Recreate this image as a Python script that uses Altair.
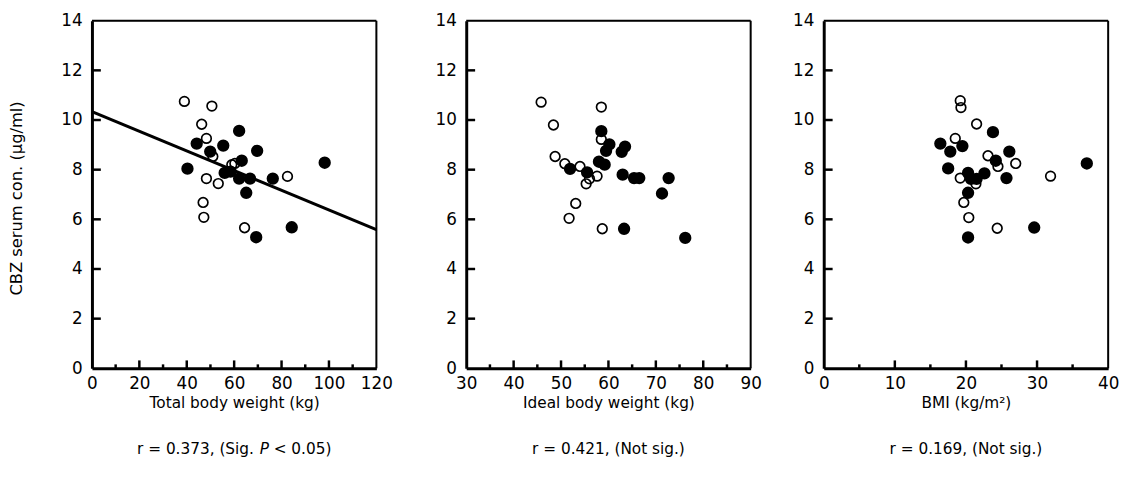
import altair as alt
import pandas as pd

# ---------------- data ----------------
# Panel 1: Total body weight (kg)
tbw_open_x = [39.0, 50.6, 46.3, 48.3, 51.0, 59.0, 60.3, 48.3, 53.3, 46.9, 47.2, 64.4, 82.5]
tbw_open_y = [10.75, 10.56, 9.83, 9.26, 8.53, 8.20, 8.25, 7.64, 7.44, 6.68, 6.08, 5.66, 7.73]
tbw_fill_x = [62.1, 44.2, 49.9, 55.4, 69.7, 40.3, 63.2, 56.0, 58.5, 62.1, 66.7, 65.1, 76.3, 98.2, 69.3, 84.3]
tbw_fill_y = [9.56, 9.05, 8.73, 8.97, 8.76, 8.04, 8.36, 7.87, 7.92, 7.64, 7.64, 7.07, 7.64, 8.28, 5.28, 5.68]
fit_x = [0, 120]
fit_y = [10.34, 5.59]

# Panel 2: Ideal body weight (kg)
ibw_open_x = [45.8, 58.5, 48.4, 58.5, 48.75, 50.8, 54.0, 57.6, 56.0, 55.3, 53.1, 51.7, 58.7]
ibw_open_y = [10.72, 10.52, 9.80, 9.22, 8.53, 8.24, 8.13, 7.74, 7.63, 7.43, 6.64, 6.04, 5.62]
ibw_fill_x = [58.5, 60.2, 59.5, 63.5, 62.8, 58.0, 59.2, 51.9, 55.5, 63.0, 65.4, 66.5, 72.7, 71.3, 63.3, 76.2]
ibw_fill_y = [9.55, 9.02, 8.76, 8.93, 8.72, 8.32, 8.20, 8.03, 7.89, 7.80, 7.66, 7.66, 7.66, 7.04, 5.62, 5.25]

# Panel 3: BMI (kg/m2)
bmi_open_x = [19.2, 19.3, 21.5, 18.5, 23.1, 24.5, 27.0, 19.2, 21.4, 19.7, 20.4, 24.4, 31.9]
bmi_open_y = [10.78, 10.50, 9.84, 9.26, 8.56, 8.13, 8.25, 7.66, 7.43, 6.68, 6.07, 5.64, 7.74]
bmi_fill_x = [23.8, 16.4, 17.8, 19.5, 26.1, 24.2, 17.5, 37.0, 20.3, 22.6, 20.7, 21.5, 25.7, 20.3, 29.6, 20.3]
bmi_fill_y = [9.51, 9.05, 8.73, 8.95, 8.73, 8.36, 8.05, 8.25, 7.87, 7.85, 7.63, 7.63, 7.66, 7.07, 5.67, 5.27]

y_ticks = [2, 4, 6, 8, 10, 12]
y_labels = [0, 2, 4, 6, 8, 10, 12, 14]

W, H = 288, 352
FONT = "DejaVu Sans"


def panel(ox, oy, fx, fy, xdom, xlabels, major, minor, xtitle, rparts, fit=None, extra=None):
    xs = alt.Scale(domain=xdom, nice=False, zero=False)
    ys = alt.Scale(domain=[0, 14], nice=False)
    xax = alt.Axis(values=xlabels, ticks=False, grid=False, domainColor="black",
                   domainWidth=3, labelFont=FONT, labelFontSize=17, labelColor="black",
                   labelPadding=7, title=xtitle, titleFont=FONT, titleFontSize=15.5,
                   titleFontWeight="normal", titleColor="black", titlePadding=5,
                   labelFlush=False, labelOverlap=False)
    yax = alt.Axis(values=y_labels, ticks=False, grid=False, domainColor="black",
                   domainWidth=3, labelFont=FONT, labelFontSize=17, labelColor="black",
                   labelPadding=10, title=None)
    base_open = pd.DataFrame({"x": ox, "y": oy})
    base_fill = pd.DataFrame({"x": fx, "y": fy})

    open_pts = alt.Chart(base_open).mark_point(
        shape="circle", filled=False, stroke="black", strokeWidth=1.7, size=95, opacity=1
    ).encode(x=alt.X("x:Q", scale=xs, axis=xax), y=alt.Y("y:Q", scale=ys, axis=yax))
    fill_pts = alt.Chart(base_fill).mark_point(
        shape="circle", filled=True, fill="black", stroke="black", size=110, opacity=1
    ).encode(x=alt.X("x:Q", scale=xs, axis=xax), y=alt.Y("y:Q", scale=ys, axis=yax))

    ytk = alt.Chart(pd.DataFrame({"v": y_ticks})).mark_rule(color="black", strokeWidth=2.5).encode(
        y=alt.Y("v:Q", scale=ys, axis=yax), x=alt.value(0), x2=alt.value(9))
    xmaj = alt.Chart(pd.DataFrame({"v": major})).mark_rule(color="black", strokeWidth=2.5).encode(
        x=alt.X("v:Q", scale=xs, axis=xax), y=alt.value(H), y2=alt.value(H - 8))
    xmin = alt.Chart(pd.DataFrame({"v": minor})).mark_rule(color="black", strokeWidth=2.5).encode(
        x=alt.X("v:Q", scale=xs, axis=xax), y=alt.value(H), y2=alt.value(H - 4))

    # top and right frame lines
    top = alt.Chart(pd.DataFrame({"t": [0]})).mark_rule(color="black", strokeWidth=2).encode(
        x=alt.value(0), x2=alt.value(W), y=alt.value(0))
    right = alt.Chart(pd.DataFrame({"t": [0]})).mark_rule(color="black", strokeWidth=2).encode(
        x=alt.value(W), y=alt.value(0), y2=alt.value(H))

    layers = [top, right, ytk, xmaj, xmin]
    if fit is not None:
        line = alt.Chart(pd.DataFrame({"x": fit[0], "y": fit[1]})).mark_line(
            color="black", strokeWidth=3, clip=True
        ).encode(x=alt.X("x:Q", scale=xs, axis=xax), y=alt.Y("y:Q", scale=ys, axis=yax))
        layers.append(line)
    layers += [open_pts, fill_pts]

    # r-statistic caption below the axis title
    for txt, dx, align, style in rparts:
        layers.append(alt.Chart(pd.DataFrame({"t": [txt]})).mark_text(
            font=FONT, fontSize=15.5, color="black", align=align, baseline="middle",
            fontStyle=style
        ).encode(text="t:N", x=alt.value(W / 2 + dx), y=alt.value(H + 82)))

    if extra is not None:
        # invisible spacer that widens this panel's layout bounds
        layers.append(alt.Chart(pd.DataFrame({"t": [0]})).mark_rule(strokeOpacity=0, color="white").encode(
            x=alt.value(W), x2=alt.value(W + extra), y=alt.value(H)))

    return alt.layer(*layers).properties(width=W, height=H)


p1 = panel(tbw_open_x, tbw_open_y, tbw_fill_x, tbw_fill_y, [0, 120],
           [0, 20, 40, 60, 80, 100, 120], [20, 40, 60, 80, 100], [10, 30, 50, 70, 90, 110],
           "Total body weight (kg)",
           [("r = 0.373, (Sig.", 20, "right", "normal"),
            ("P", 26, "left", "italic"),
            ("< 0.05)", 40, "left", "normal")],
           fit=(fit_x, fit_y), extra=28)

p2 = panel(ibw_open_x, ibw_open_y, ibw_fill_x, ibw_fill_y, [30, 90],
           [30, 40, 50, 60, 70, 80, 90], [40, 50, 60, 70, 80], [35, 45, 55, 65, 75, 85],
           "Ideal body weight (kg)",
           [("r = 0.421,  (Not sig.)", 0, "center", "normal")])

p3 = panel(bmi_open_x, bmi_open_y, bmi_fill_x, bmi_fill_y, [0, 40],
           [0, 10, 20, 30, 40], [10, 20, 30], [5, 15, 25, 35],
           "BMI (kg/m²)",
           [("r = 0.169,  (Not sig.)", 0, "center", "normal")])

# y-axis title only on first panel
ytitle = alt.Chart(pd.DataFrame({"t": ["CBZ serum con. (μg/ml)"]})).mark_text(
    font=FONT, fontSize=16.5, color="black", angle=270, align="center", baseline="middle"
).encode(text="t:N", x=alt.value(-76), y=alt.value(H / 2 + 4))
p1 = alt.layer(p1, ytitle)

chart = alt.hconcat(p1, p2, p3, spacing=29).properties(
    padding={"left": 0, "top": 0, "right": 0, "bottom": 0}
).configure_view(stroke=None).configure(background="white")

chart.save("out.html", embed_options={"renderer": "svg", "actions": False})
